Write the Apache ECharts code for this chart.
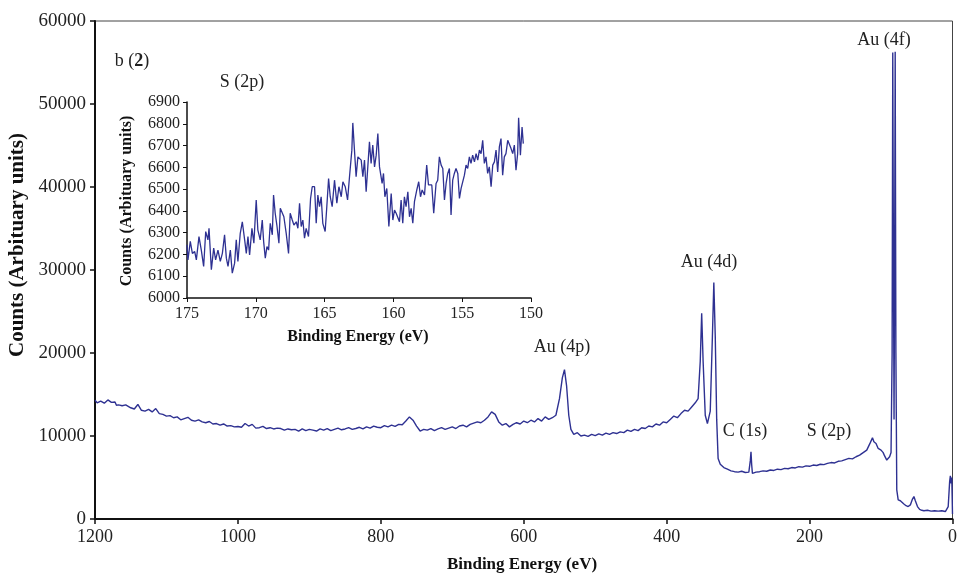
<!DOCTYPE html>
<html>
<head>
<meta charset="utf-8">
<script src="https://cdn.jsdelivr.net/npm/echarts@6/dist/echarts.min.js"></script>
<style>html,body{margin:0;padding:0;background:#fff}#c{width:960px;height:577px}</style>
</head>
<body>
<div id="c"></div>
<script>
// Main survey spectrum: [binding energy (eV), counts]
const mainSpectrum = [
[1200,14300],[1197,14000],[1195,13900],[1192,14200],[1190,14400],[1187,13950],[1185,14100],[1182,14350],[1180,14500],[1177,14050],[1175,13900],[1172,14100],[1170,13700],[1167,13750],[1165,13900],[1162,13650],[1160,13500],[1157,13750],[1155,13600],
[1150,13400],[1145,13250],[1140,13800],[1135,13100],[1130,13000],[1125,13200],[1120,12900],[1115,13300],[1110,12700],[1105,12600],
[1100,12400],[1095,12450],[1090,12200],[1085,12300],[1080,11950],[1075,12100],[1070,12250],[1065,11900],[1060,11800],[1055,11950],
[1050,11700],[1045,11600],[1040,11750],[1035,11450],[1030,11500],[1025,11300],[1020,11450],[1015,11200],[1010,11250],[1005,11100],
[1000,11150],[995,11050],[990,11500],[985,11200],[980,11400],[975,10950],[970,11000],[965,11150],[960,10900],[955,11000],
[950,10850],[945,10950],[940,10900],[935,10700],[930,10850],[925,10750],[920,10800],[915,10600],[910,10850],[905,10650],
[900,10800],[895,10700],[890,10600],[885,10850],[880,10700],[875,10900],[870,10650],[865,10800],[860,10950],[855,10750],
[850,10850],[845,11000],[840,10800],[835,10900],[830,11050],[825,10850],[820,11100],[815,10950],[810,11200],[805,11050],
[800,11000],[795,11250],[790,11100],[785,11300],[780,11150],[775,11400],[770,11350],[765,11800],[760,12300],[755,11900],
[750,11200],[745,10600],[740,10800],[735,10700],[730,10900],[725,10650],[720,10850],[715,11000],[710,10800],[705,10950],
[700,11100],[695,10900],[690,11200],[685,11300],[680,11100],[675,11400],[670,11550],[665,11700],[660,11600],[655,11900],
[650,12300],[645,12900],[640,12600],[635,11700],[630,11300],[625,11500],[620,11100],[615,11400],[610,11600],[605,11450],
[600,11800],[595,11600],[590,11900],[585,11700],[580,12100],[575,11800],[570,12300],[565,12000],[560,12200],[555,12500],
[550,14500],[546,17000],[543,18000],[540,16000],[537,12500],[534,10800],[530,10200],[525,10400],[520,10000],[515,10100],
[510,9950],[505,10200],[500,10050],[495,10250],[490,10100],[485,10350],[480,10200],[475,10400],[470,10300],[465,10500],
[460,10400],[455,10700],[450,10550],[445,10800],[440,10650],[435,11000],[430,10900],[425,11200],[420,11100],[415,11450],
[410,11300],[405,11700],[400,11600],[395,12000],[390,12400],[385,12200],[380,12700],[375,13100],[370,13000],[365,13500],
[360,14000],[356,14500],[353,19000],[351,24800],[349,19000],[346,12500],[343,11500],[341,11300],[339,13000],[336,22000],
[334,28500],[332,22000],[330,12000],[328,7300],[325,6600],[320,6200],[315,6000],[310,5800],[305,5700],[300,5650],
[295,5750],[290,5600],[285,5650],[283,7000],[282,8100],[281,6500],[280,5500],[275,5650],[270,5700],[265,5800],
[260,5750],[255,5900],[250,5850],[245,6000],[240,5950],[235,6100],[230,6050],[225,6200],[220,6150],[215,6300],
[210,6250],[205,6400],[200,6350],[195,6500],[190,6450],[185,6600],[180,6550],[175,6700],[170,6800],[165,6750],
[160,6950],[155,7000],[150,7150],[145,7300],[140,7250],[135,7500],[130,7700],[125,8000],[120,8300],[115,9200],
[112,9800],[110,9300],[107,9100],[104,8500],[100,8300],[97,8000],[95,7600],[92,7100],[90,6900],[88,7500],
[86,8000],[84.5,20000],[83.6,56200],[82.6,30000],[81.8,12000],[81,30000],[80.2,56300],[79.2,20000],[78,3500],[76,2300],
[73,2200],[71,2300],[68,1800],[65,1600],[62,1500],[59,1700],[56,2400],[54,2700],[52,2200],[49,1500],
[46,1150],[43,1050],[40,1000],[35,1050],[30,950],[25,1000],[20,950],[15,1000],[10,900],[8,950],
[6,1500],[4,4500],[3,5200],[2,4300],[1,5000],[0,600]
];

// Inset S (2p) high-resolution region: [binding energy (eV), counts]
const insetSpectrum = [
[175.00,6244],[174.93,6175],[174.76,6260],[174.61,6205],[174.44,6213],[174.32,6175],[174.13,6282],[173.96,6220],[173.79,6145],[173.64,6305],
[173.48,6267],[173.40,6320],[173.23,6130],[173.06,6229],[172.92,6175],[172.75,6220],[172.58,6168],[172.43,6205],[172.27,6290],[172.14,6183],
[172.02,6145],[171.85,6220],[171.71,6114],[171.54,6160],[171.42,6267],[171.30,6168],[171.13,6297],[170.98,6350],[170.81,6267],[170.69,6205],
[170.57,6282],[170.45,6198],[170.28,6320],[170.14,6252],[169.97,6450],[169.85,6312],[169.68,6267],[169.53,6358],[169.43,6259],[169.31,6183],
[169.19,6236],[169.07,6220],[168.95,6343],[168.80,6290],[168.71,6473],[168.59,6389],[168.47,6335],[168.32,6252],[168.22,6412],[168.08,6419],
[167.96,6373],[167.79,6297],[167.62,6205],[167.50,6389],[167.35,6358],[167.23,6335],[167.06,6350],[166.94,6320],[166.82,6435],[166.70,6328],
[166.58,6358],[166.46,6275],[166.34,6320],[166.17,6282],[166.02,6457],[165.90,6511],[165.73,6511],[165.61,6343],[165.49,6473],[165.37,6419],
[165.25,6465],[165.13,6343],[164.96,6305],[164.84,6419],[164.71,6549],[164.59,6465],[164.45,6419],[164.28,6541],[164.11,6435],[163.96,6511],
[163.79,6465],[163.67,6534],[163.50,6511],[163.33,6450],[163.19,6557],[163.02,6679],[162.95,6804],[162.83,6679],[162.71,6557],[162.58,6648],
[162.46,6640],[162.34,6633],[162.22,6557],[162.10,6633],[161.98,6488],[161.86,6602],[161.74,6717],[161.62,6618],[161.50,6702],[161.37,6602],
[161.25,6656],[161.13,6755],[161.01,6602],[160.89,6595],[160.82,6526],[160.72,6572],[160.62,6465],[160.48,6503],[160.33,6328],[160.16,6480],
[160.04,6358],[159.92,6404],[159.80,6389],[159.68,6396],[159.56,6350],[159.44,6450],[159.32,6343],[159.20,6465],[159.08,6419],[158.95,6488],
[158.83,6373],[158.71,6412],[158.59,6343],[158.47,6442],[158.30,6496],[158.16,6534],[158.03,6465],[157.91,6496],[157.74,6473],[157.58,6610],
[157.45,6519],[157.33,6511],[157.21,6519],[157.07,6389],[156.90,6526],[156.78,6541],[156.66,6648],[156.53,6610],[156.41,6595],[156.29,6450],
[156.17,6526],[156.05,6572],[155.93,6595],[155.81,6381],[155.69,6541],[155.57,6572],[155.45,6595],[155.32,6572],[155.20,6457],[155.08,6503],
[154.96,6511],[154.84,6564],[154.72,6610],[154.60,6595],[154.48,6648],[154.36,6618],[154.24,6656],[154.11,6625],[153.99,6663],[153.87,6633],
[153.75,6679],[153.63,6663],[153.51,6724],[153.39,6618],[153.27,6648],[153.15,6572],[153.03,6602],[152.90,6511],[152.78,6610],[152.66,6625],
[152.54,6679],[152.42,6579],[152.30,6694],[152.18,6732],[152.06,6564],[151.94,6648],[151.82,6663],[151.69,6724],[151.57,6732],[151.45,6686],
[151.33,6663],[151.21,6702],[151.09,6587],[150.97,6663],[150.90,6828],[150.77,6656],[150.65,6785],[150.56,6709]
];

const mainXRange = [0, 1200, 200];
const mainYRange = [0, 60000, 10000];
const insetXRange = [150, 175, 5];
const insetYRange = [6000, 6900, 100];

const peakLabels = [
  {text: 'Au (4f)', x: 884, y: 40},
  {text: 'Au (4d)', x: 709, y: 262},
  {text: 'Au (4p)', x: 562, y: 347},
  {text: 'C (1s)', x: 745, y: 431},
  {text: 'S (2p)', x: 829, y: 431}
];

const SERIF = "'Liberation Serif','Times New Roman',serif";
const LINE = '#2e3192';
const plain = v => String(v);

const chart = echarts.init(document.getElementById('c'), null, {renderer: 'canvas'});

const graphics = peakLabels.map(p => ({
  type: 'text', x: p.x, y: p.y,
  style: {text: p.text, font: '18px ' + SERIF, fill: '#222', align: 'center', verticalAlign: 'middle'}
}));
graphics.push(
  {type: 'text', x: 18, y: 245, rotation: Math.PI / 2,
   style: {text: 'Counts (Arbituary units)', font: 'bold 21px ' + SERIF, fill: '#111', align: 'center', verticalAlign: 'middle'}},
  {type: 'text', x: 522, y: 565,
   style: {text: 'Binding Energy (eV)', font: 'bold 17px ' + SERIF, fill: '#111', align: 'center', verticalAlign: 'middle'}},
  {type: 'text', x: 127, y: 201, rotation: Math.PI / 2,
   style: {text: 'Counts (Arbituary units)', font: 'bold 16px ' + SERIF, fill: '#111', align: 'center', verticalAlign: 'middle'}},
  {type: 'text', x: 358, y: 337,
   style: {text: 'Binding Energy (eV)', font: 'bold 16px ' + SERIF, fill: '#111', align: 'center', verticalAlign: 'middle'}},
  {type: 'text', x: 242, y: 82,
   style: {text: 'S (2p)', font: '18px ' + SERIF, fill: '#222', align: 'center', verticalAlign: 'middle'}},
  {type: 'text', x: 132, y: 61,
   style: {text: '{n|b (}{b|2}{n|)}', align: 'center', verticalAlign: 'middle',
     rich: {n: {font: '18px ' + SERIF, fill: '#222'}, b: {font: 'bold 18px ' + SERIF, fill: '#222'}}}}
);

chart.setOption({
  animation: false,
  backgroundColor: '#fff',
  grid: [
    {left: 95, top: 21, width: 861, height: 498, show: true, borderColor: '#444', borderWidth: 1, backgroundColor: 'transparent'},
    {left: 187, top: 102, width: 344, height: 196}
  ],
  xAxis: [
    {gridIndex: 0, type: 'value', inverse: true, min: mainXRange[0], max: mainXRange[1], interval: mainXRange[2],
     axisLine: {show: true, onZero: false, lineStyle: {color: '#111', width: 2}},
     axisTick: {show: true, inside: false, length: 5, lineStyle: {color: '#111', width: 1.5}},
     axisLabel: {fontFamily: SERIF, fontSize: 18, color: '#222', margin: 9, formatter: plain},
     splitLine: {show: false}},
    {gridIndex: 1, type: 'value', inverse: true, min: insetXRange[0], max: insetXRange[1], interval: insetXRange[2],
     axisLine: {show: true, onZero: false, lineStyle: {color: '#111', width: 1.5}},
     axisTick: {show: true, inside: false, length: 4, lineStyle: {color: '#111', width: 1}},
     axisLabel: {fontFamily: SERIF, fontSize: 16, color: '#222', margin: 8, formatter: plain},
     splitLine: {show: false}}
  ],
  yAxis: [
    {gridIndex: 0, type: 'value', min: mainYRange[0], max: mainYRange[1], interval: mainYRange[2],
     axisLine: {show: true, onZero: false, lineStyle: {color: '#111', width: 2}},
     axisTick: {show: true, inside: false, length: 5, lineStyle: {color: '#111', width: 1.5}},
     axisLabel: {fontFamily: SERIF, fontSize: 19, color: '#222', margin: 9, formatter: plain},
     splitLine: {show: false}},
    {gridIndex: 1, type: 'value', min: insetYRange[0], max: insetYRange[1], interval: insetYRange[2],
     axisLine: {show: true, onZero: false, lineStyle: {color: '#111', width: 1.5}},
     axisTick: {show: true, inside: false, length: 4, lineStyle: {color: '#111', width: 1}},
     axisLabel: {fontFamily: SERIF, fontSize: 16, color: '#222', margin: 7, formatter: plain},
     splitLine: {show: false}}
  ],
  series: [
    {type: 'line', xAxisIndex: 0, yAxisIndex: 0, data: mainSpectrum, showSymbol: false, symbol: 'none',
     lineStyle: {color: LINE, width: 1.4}, clip: true},
    {type: 'line', xAxisIndex: 1, yAxisIndex: 1, data: insetSpectrum, showSymbol: false, symbol: 'none',
     lineStyle: {color: LINE, width: 1.3}, clip: true}
  ],
  graphic: graphics
});
</script>
</body>
</html>
